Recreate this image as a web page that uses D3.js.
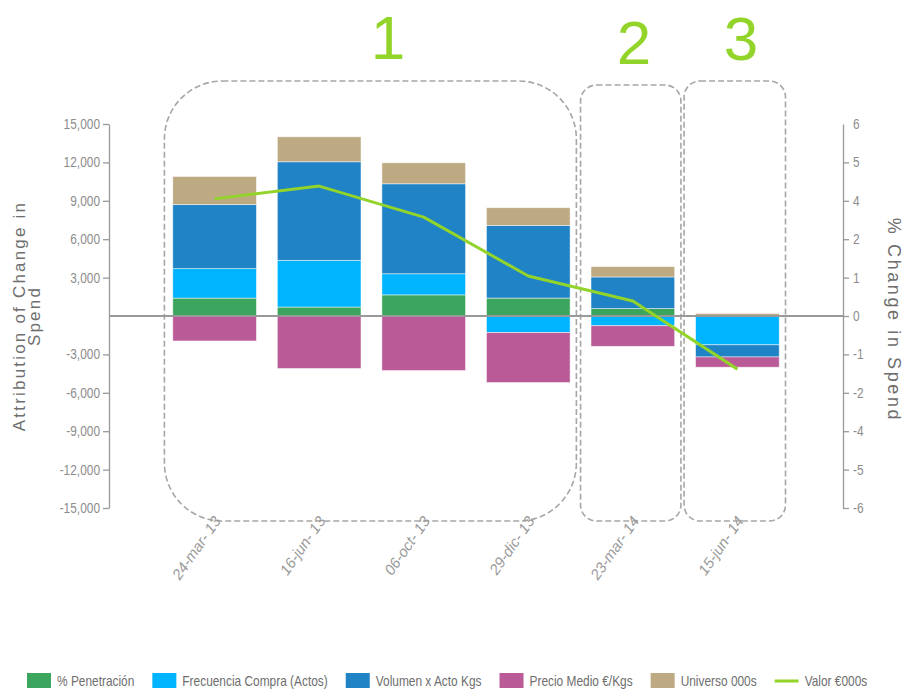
<!DOCTYPE html>
<html>
<head>
<meta charset="utf-8">
<style>
body { margin: 0; background: #fff; }
svg { display: block; }
.axis text {
  font-family: "Liberation Sans", Arial, sans-serif;
  font-size: 14px;
  fill: #8c8c8c;
}
.axis path, .axis line { stroke: #999; stroke-width: 1.3px; }
.xlabel {
  font-family: "Liberation Sans", Arial, sans-serif;
  font-size: 15px;
  font-style: italic;
  fill: #9a9a9a;
}
.title {
  font-family: "Liberation Sans", Arial, sans-serif;
  fill: #6e6e6e;
}
.legend text {
  font-family: "Liberation Sans", Arial, sans-serif;
  font-size: 14px;
  fill: #6e6e6e;
}
.group-box { fill: none; stroke: #a6a6a6; stroke-width: 1.6px; stroke-dasharray: 6,3; }
.group-num { font-family: "Liberation Sans", Arial, sans-serif; font-size: 62px; fill: #93d42a; text-anchor: middle; }
</style>
</head>
<body>
<svg width="904" height="690"></svg>
<script src="https://cdn.jsdelivr.net/npm/d3@7"></script>
<script>
// categories
var dates = ["24-mar-13", "16-jun-13", "06-oct-13", "29-dic-13", "23-mar-14", "15-jun-14"];

// stacked components (000s)
var penetracion = [1400, 700, 1650, 1400, 580, 50];
var frecuencia  = [2300, 3650, 1650, -1300, -760, -2250];
var volumen     = [5000, 7700, 7030, 5680, 2470, -950];
var precio      = [-1950, -4100, -4260, -3900, -1610, -800];
var universo    = [2200, 1950, 1640, 1380, 810, 150];

// line (% change in spend)
var valor = [3.66, 4.06, 3.09, 1.25, 0.47, -1.66];

var seriesNames  = ["% Penetración", "Frecuencia Compra (Actos)", "Volumen x Acto Kgs", "Precio Medio €/Kgs", "Universo 000s"];
var seriesValues = [penetracion, frecuencia, volumen, precio, universo];
var seriesColors = ["#3ba55d", "#00b4ff", "#1f83c6", "#ba5a97", "#bdaa83"];
var lineName = "Valor €000s";
var lineColor = "#93d42a";

var leftTicks = [-15000, -12000, -9000, -6000, -3000, 3000, 6000, 9000, 12000, 15000];
var rightTicks = [-6, -4.8, -3.6, -2.4, -1.2, 0, 1.2, 2.4, 3.6, 4.8, 6];

// groups of periods, each with a dashed box and a number
var groupNames = ["1", "2", "3"];
var groupStart = [0, 4, 5];
var groupEnd   = [3, 4, 5];

var narrow = 0.85; // fake a narrow face by squeezing Liberation Sans

var svg = d3.select("svg");

var x = d3.scaleBand()
    .domain(dates)
    .range([109, 843])
    .paddingInner(0.2)
    .paddingOuter(0.61);

var y = d3.scaleLinear().domain([-15000, 15000]).range([508, 124]);
var y2 = d3.scaleLinear().domain([-6, 6]).range([508, 124]);

var rows = dates.map(function(d, i) {
  var r = { date: d };
  seriesNames.forEach(function(s, k) { r[s] = seriesValues[k][i]; });
  return r;
});

var stack = d3.stack()
    .keys(seriesNames)
    .offset(d3.stackOffsetDiverging);
var layers = stack(rows);

// dashed group boxes
var boxTop = [81, 85, 81];
var boxRadius = [58, 16, 16];
var boxPadL = [0.08, 0.1, 0.11];
svg.append("g").selectAll("rect")
  .data(groupNames)
  .enter().append("rect")
    .attr("class", "group-box")
    .attr("x", function(d, i) { return x(dates[groupStart[i]]) - x.step() * boxPadL[i]; })
    .attr("width", function(d, i) {
      return x(dates[groupEnd[i]]) + x.bandwidth() + x.step() * 0.06 - (x(dates[groupStart[i]]) - x.step() * boxPadL[i]);
    })
    .attr("y", function(d, i) { return boxTop[i]; })
    .attr("height", function(d, i) { return 521 - boxTop[i]; })
    .attr("rx", function(d, i) { return boxRadius[i]; });

var numX = [388, 634, 741];
var numY = [59, 64, 60];
svg.append("g").selectAll("text")
  .data(groupNames)
  .enter().append("text")
    .attr("class", "group-num")
    .attr("x", function(d, i) { return numX[i]; })
    .attr("y", function(d, i) { return numY[i]; })
    .text(function(d) { return d; });

// bars
svg.append("g").selectAll("g")
  .data(layers)
  .enter().append("g")
    .attr("fill", function(d, i) { return seriesColors[i]; })
  .selectAll("rect")
  .data(function(d) { return d; })
  .enter().append("rect")
    .attr("x", function(d) { return x(d.data.date); })
    .attr("width", x.bandwidth())
    .attr("y", function(d) { return y(Math.max(d[0], d[1])); })
    .attr("height", function(d) { return Math.abs(y(d[0]) - y(d[1])); })
    .attr("stroke", "#fff")
    .attr("stroke-opacity", 0.6)
    .attr("stroke-width", 0.8);

// axes
var fmt = d3.format(",");
var leftAxis = svg.append("g")
    .attr("class", "axis")
    .attr("transform", "translate(109,0)")
    .call(d3.axisLeft(y)
      .tickValues(leftTicks)
      .tickSize(6)
      .tickSizeOuter(0)
      .tickFormat(function(v) { return fmt(v).replace("\u2212", "-"); }));
leftAxis.selectAll(".tick text")
    .attr("x", 0)
    .attr("transform", "translate(-9,0) scale(" + narrow + ",1)");

var rightAxis = svg.append("g")
    .attr("class", "axis")
    .attr("transform", "translate(843,0)")
    .call(d3.axisRight(y2)
      .tickValues(rightTicks)
      .tickSize(6)
      .tickSizeOuter(0)
      .tickFormat(function(v) { var r = Math.round(v); return r === 0 ? "0" : String(r); }));
rightAxis.selectAll(".tick text")
    .attr("x", 0)
    .attr("transform", "translate(10,0) scale(" + narrow + ",1)");
rightAxis.selectAll(".tick line").filter(function(d) { return d === 6; }).remove();

// zero line
svg.append("line")
    .attr("x1", 109).attr("x2", 843)
    .attr("y1", y(0)).attr("y2", y(0))
    .attr("stroke", "#999")
    .attr("stroke-width", 1.8);

// x labels
svg.append("g").selectAll("text")
  .data(dates)
  .enter().append("text")
    .attr("class", "xlabel")
    .attr("text-anchor", "end")
    .attr("transform", function(d) {
      return "translate(" + (x(d) + x.bandwidth() / 2 + 7) + ",521) rotate(-55)";
    })
    .text(function(d) { return d.replace(/-(\d\d)$/, "- $1"); });

// line
var line = d3.line()
    .x(function(d, i) { return x(dates[i]) + x.bandwidth() / 2; })
    .y(function(d) { return y2(d); });
svg.append("path")
    .datum(valor)
    .attr("fill", "none")
    .attr("stroke", lineColor)
    .attr("stroke-width", 3)
    .attr("stroke-linejoin", "round")
    .attr("d", line);

// axis titles
var lt = svg.append("text")
    .attr("class", "title")
    .attr("transform", "translate(25,316) rotate(-90)")
    .attr("text-anchor", "middle")
    .style("font-size", "17px")
    .style("letter-spacing", "2.2px");
lt.append("tspan").attr("x", 0).attr("dy", 0).text("Attribution of Change in");
lt.append("tspan").attr("x", 0).attr("dy", 15).text("Spend");

svg.append("text")
    .attr("class", "title")
    .attr("transform", "translate(888,320) rotate(90)")
    .attr("text-anchor", "middle")
    .style("font-size", "18px")
    .style("letter-spacing", "2.6px")
    .text("% Change in Spend");

// legend
var legend = svg.append("g").attr("class", "legend");
var lx = 27;
function legendText(px, label) {
  var t = legend.append("text")
      .attr("transform", "translate(" + px + ",686) scale(" + narrow + ",1)")
      .text(label);
  return t.node().getComputedTextLength() * narrow;
}
seriesNames.forEach(function(name, i) {
  legend.append("rect")
      .attr("x", lx).attr("y", 673)
      .attr("width", 24).attr("height", 15)
      .attr("fill", seriesColors[i]);
  var w = legendText(lx + 30, name);
  lx += 30 + w + 18;
});
legend.append("line")
    .attr("x1", lx).attr("x2", lx + 24)
    .attr("y1", 681).attr("y2", 681)
    .attr("stroke", lineColor)
    .attr("stroke-width", 3);
legendText(lx + 30, lineName);
</script>
</body>
</html>
